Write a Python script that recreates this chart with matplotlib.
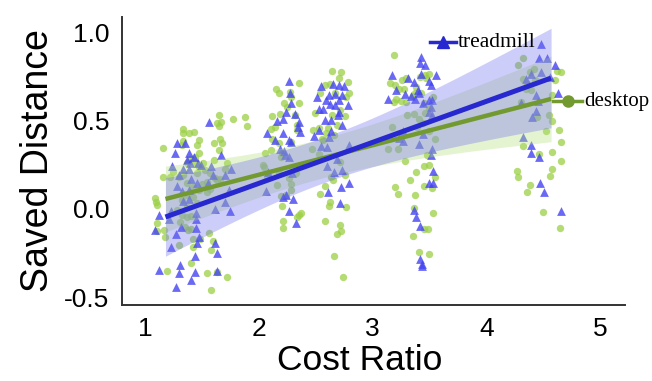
import numpy as np
import matplotlib
matplotlib.use("Agg")
import matplotlib.pyplot as plt

# ---------------- data ----------------
treadmill_x = [
    1.565, 1.278, 1.354, 1.261, 1.390, 1.431, 1.671, 1.366, 1.395, 1.466, 1.495, 1.237, 1.577, 1.331,
    1.384, 1.759, 1.706, 1.296, 1.401, 1.600, 1.554, 1.460, 1.284, 1.325, 1.384, 1.735, 1.390, 1.706,
    1.337, 1.126, 1.231, 1.448, 1.618, 1.747, 1.208, 1.448, 1.313, 1.085, 1.448, 1.272, 1.472, 1.460,
    1.231, 1.618, 1.630, 1.442, 1.307, 1.126, 1.302, 1.442, 1.636, 1.407, 1.272,
    2.263, 2.275, 2.544, 2.655, 2.702, 2.749, 2.614, 2.667, 2.732, 2.509, 2.591, 2.286, 2.626, 2.708,
    2.784, 2.673, 2.527, 2.562, 2.239, 2.316, 2.708, 2.696, 2.157, 2.216, 2.351, 2.585, 2.632, 2.732,
    2.345, 2.362, 2.069, 2.210, 2.527, 2.638, 2.485, 2.140, 2.263, 2.280, 2.620, 2.187, 2.550, 2.597,
    2.222, 2.233, 2.790, 2.263, 2.685, 2.597, 2.732, 2.081, 2.661, 2.292, 2.790, 2.720, 2.064, 2.609,
    2.239, 2.210, 2.298, 2.714, 2.269, 2.327,
    3.429, 3.418, 3.465, 3.171, 3.312, 3.429, 3.558, 3.494, 3.207, 3.365, 3.511, 3.400, 3.283, 3.406,
    3.136, 3.341, 3.377, 3.500, 3.523, 3.441, 3.517, 3.500, 3.523, 3.265, 3.441, 3.236, 3.265, 3.406,
    3.523, 3.511, 3.535, 3.494, 3.535, 3.365, 3.382, 3.418, 3.418, 3.435, 3.435,
    4.484, 4.467, 4.537, 4.607, 4.478, 4.396, 4.350, 4.560, 4.631, 4.437, 4.455, 4.308, 4.437, 4.402,
    4.326, 4.396, 4.396, 4.461, 4.473, 4.508, 4.654,
]
treadmill_y = [
    0.494, 0.373, 0.373, 0.316, 0.316, 0.297, 0.309, 0.278, 0.259, 0.259, 0.248, 0.244, 0.244, 0.225,
    0.225, 0.225, 0.195, 0.191, 0.172, 0.195, 0.150, 0.150, 0.131, 0.104, 0.108, 0.108, 0.055, 0.040,
    0.047, -0.032, -0.013, -0.021, -0.002, -0.013, -0.055, -0.055, -0.100, -0.119, -0.108, -0.142, -0.157, -0.191,
    -0.214, -0.191, -0.248, -0.267, -0.316, -0.347, -0.362, -0.358, -0.350, -0.403, -0.445,
    0.725, 0.661, 0.699, 0.710, 0.703, 0.699, 0.650, 0.653, 0.650, 0.635, 0.616, 0.600, 0.597, 0.616,
    0.589, 0.593, 0.566, 0.566, 0.551, 0.540, 0.551, 0.532, 0.502, 0.510, 0.494, 0.506, 0.506, 0.479,
    0.468, 0.438, 0.430, 0.430, 0.449, 0.441, 0.415, 0.392, 0.392, 0.381, 0.411, 0.343, 0.358, 0.350,
    0.332, 0.309, 0.362, 0.293, 0.286, 0.244, 0.222, 0.210, 0.210, 0.206, 0.146, 0.127, 0.100, 0.097,
    0.078, 0.070, 0.055, 0.032, -0.009, -0.077,
    0.862, 0.831, 0.816, 0.763, 0.744, 0.767, 0.763, 0.729, 0.676, 0.722, 0.703, 0.676, 0.653, 0.657,
    0.627, 0.642, 0.627, 0.619, 0.616, 0.600, 0.578, 0.551, 0.536, 0.441, 0.426, 0.403, 0.388, 0.369,
    0.343, 0.305, 0.218, 0.150, 0.150, -0.006, -0.044, -0.097, -0.282, -0.313, -0.324,
    0.938, 0.858, 0.858, 0.816, 0.778, 0.767, 0.737, 0.752, 0.661, 0.650, 0.615, 0.600, 0.559, 0.521,
    0.407, 0.365, 0.320, 0.297, 0.150, 0.097, -0.010,
]

desktop_x = [
    1.653, 1.770, 1.630, 1.665, 1.647, 1.331, 1.337, 1.384, 1.431, 1.472, 1.460, 1.337, 1.325, 1.155,
    1.659, 1.606, 1.677, 1.653, 1.606, 1.724, 1.706, 1.472, 1.442, 1.395, 1.366, 1.436, 1.477, 1.460,
    1.161, 1.249, 1.296, 1.337, 1.524, 1.571, 1.659, 1.548, 1.501, 1.618, 1.366, 1.419, 1.472, 1.542,
    1.571, 1.085, 1.096, 1.108, 1.325, 1.366, 1.419, 1.454, 1.366, 1.278, 1.325, 1.366, 1.407, 1.307,
    1.108, 1.108, 1.167, 1.354, 1.378, 1.401, 1.179, 1.419, 1.483, 1.302, 1.425, 1.565, 1.595, 1.577,
    1.407, 1.190, 1.542, 1.630, 1.718, 1.583, 1.630, 1.513, 1.220, 1.880, 1.900,
    2.644, 2.720, 2.708, 2.357, 2.151, 2.175, 2.275, 2.626, 2.784, 2.579, 2.673, 2.790, 2.767, 2.222,
    2.245, 2.351, 2.280, 2.538, 2.497, 2.116, 2.187, 2.321, 2.714, 2.761, 2.644, 2.146, 2.110, 2.339,
    2.333, 2.474, 2.532, 2.609, 2.691, 2.116, 2.175, 2.280, 2.591, 2.661, 2.058, 2.204, 2.105, 2.556,
    2.468, 2.527, 2.568, 2.034, 2.046, 2.198, 2.714, 2.181, 2.069, 2.327, 2.269, 2.632, 2.656, 2.761,
    2.280, 2.163, 2.585, 2.286, 2.538, 2.193, 2.239, 2.626, 2.620, 2.204, 2.767, 2.374, 2.351, 2.333,
    2.216, 2.579, 2.714, 2.210, 2.726, 2.685, 2.661, 2.737,
    3.189, 3.154, 3.201, 3.259, 3.294, 3.236, 3.277, 3.459, 3.494, 3.470, 3.418, 3.382, 3.377, 3.359,
    3.423, 3.207, 3.253, 3.294, 3.189, 3.535, 3.453, 3.494, 3.365, 3.459, 3.406, 3.447, 3.171, 3.394,
    3.500, 3.552, 3.136, 3.224, 3.476, 3.283, 3.453, 3.494, 3.382, 3.552, 3.330, 3.201, 3.453, 3.523,
    3.224, 3.371, 3.529, 3.365, 3.453, 3.488, 3.359, 3.406, 3.500, 3.306,
    4.326, 4.279, 4.420, 4.385, 4.625, 4.660, 4.326, 4.355, 4.426, 4.607, 4.350, 4.396, 4.578, 4.303,
    4.449, 4.549, 4.578, 4.525, 4.637, 4.654, 4.326, 4.461, 4.578, 4.660, 4.267, 4.279, 4.578, 4.561,
    4.385, 4.361, 4.496, 4.648,
]
desktop_y = [
    0.536, 0.513, 0.487, 0.494, 0.472, 0.453, 0.430, 0.434, 0.437, 0.392, 0.362, 0.388, 0.366, 0.347,
    0.396, 0.377, 0.373, 0.335, 0.278, 0.263, 0.229, 0.316, 0.297, 0.286, 0.259, 0.259, 0.241, 0.203,
    0.184, 0.210, 0.184, 0.191, 0.222, 0.203, 0.169, 0.153, 0.142, 0.176, 0.146, 0.123, 0.108, 0.097,
    0.112, 0.062, 0.040, 0.021, 0.051, 0.078, 0.070, 0.032, 0.013, -0.006, -0.036, -0.044, -0.040, -0.074,
    -0.081, -0.123, -0.119, -0.100, -0.119, -0.116, -0.161, -0.169, -0.172, -0.206, -0.218, -0.138, -0.180, -0.233,
    -0.309, -0.354, -0.366, -0.358, -0.388, -0.460, 0.165, 0.259, 0.184, 0.520, 0.470,
    0.786, 0.775, 0.741, 0.714, 0.684, 0.657, 0.665, 0.710, 0.722, 0.703, 0.657, 0.657, 0.638, 0.604,
    0.581, 0.604, 0.635, 0.657, 0.547, 0.528, 0.540, 0.532, 0.563, 0.528, 0.532, 0.468, 0.456, 0.475,
    0.449, 0.449, 0.460, 0.460, 0.475, 0.396, 0.373, 0.381, 0.430, 0.422, 0.316, 0.316, 0.335, 0.400,
    0.343, 0.313, 0.392, 0.252, 0.237, 0.294, 0.267, 0.203, 0.184, 0.206, 0.176, 0.180, 0.165, 0.191,
    0.142, 0.134, 0.131, 0.108, 0.085, 0.074, 0.081, 0.040, 0.017, 0.017, 0.013, -0.025, -0.036, -0.044,
    -0.070, -0.066, -0.089, -0.108, -0.123, -0.142, -0.267, -0.388,
    0.873, 0.714, 0.706, 0.733, 0.741, 0.680, 0.684, 0.763, 0.767, 0.741, 0.748, 0.695, 0.657, 0.642,
    0.657, 0.623, 0.615, 0.608, 0.608, 0.634, 0.600, 0.574, 0.540, 0.544, 0.513, 0.487, 0.468, 0.464,
    0.445, 0.400, 0.343, 0.343, 0.305, 0.271, 0.244, 0.252, 0.210, 0.180, 0.165, 0.123, 0.131, 0.119,
    0.085, 0.078, -0.025, 0.006, -0.112, -0.116, -0.153, -0.244, -0.256, 0.532,
    0.858, 0.820, 0.793, 0.778, 0.782, 0.778, 0.737, 0.710, 0.733, 0.733, 0.680, 0.676, 0.646, 0.608,
    0.521, 0.532, 0.502, 0.441, 0.449, 0.381, 0.358, 0.312, 0.324, 0.275, 0.214, 0.180, 0.229, 0.187,
    0.134, 0.097, -0.017, -0.108,
]

# model estimates
treadmill_intercept, treadmill_slope = -0.320, 0.2327
desktop_intercept, desktop_slope = -0.141, 0.1676
fit_range = [1.18, 4.57]      # range of the (un-jittered) cost ratios used for the fits
design_effect = 10.0          # variance inflation for repeated measures in the CI

x_ticks = [1, 2, 3, 4, 5]
y_ticks = [-0.5, 0.0, 0.5, 1.0]
y_ticklabels = ["-0.5", "0.0", "0.5", "1.0"]

# ---------------- styling ----------------
BLUE_PT = "#4444f2"
BLUE_LINE = "#2828d0"
GREEN_PT = "#9bcf45"
GREEN_LINE = "#739a30"
GREEN_BAND = "#b5e07a"
BLUE_BAND = "#7070f0"


def model_with_ci(x, y, a, b, xs, deff):
    x = np.asarray(x, float)
    y = np.asarray(y, float)
    n = len(x)
    resid = y - (a + b * x)
    s2 = np.sum((resid - resid.mean()) ** 2) / (n - 2)
    sxx = np.sum((x - x.mean()) ** 2)
    se = np.sqrt(deff * s2 * (1.0 / n + (xs - x.mean()) ** 2 / sxx))
    yhat = a + b * xs
    return yhat, yhat - 1.97 * se, yhat + 1.97 * se


fig = plt.figure(figsize=(6.52, 3.81), dpi=100)
ax = fig.add_axes([122 / 652, 1 - 305 / 381, 503 / 652, 288 / 381])

ax.scatter(desktop_x, desktop_y, s=28, marker="o", color=GREEN_PT, alpha=0.75,
           linewidths=0, zorder=2)
ax.scatter(treadmill_x, treadmill_y, s=40, marker="^", color=BLUE_PT, alpha=0.8,
           linewidths=0, zorder=2)

xs = np.linspace(fit_range[0], fit_range[1], 100)
yg, lg, ug = model_with_ci(desktop_x, desktop_y, desktop_intercept, desktop_slope, xs, design_effect)
yb, lb, ub = model_with_ci(treadmill_x, treadmill_y, treadmill_intercept, treadmill_slope, xs, design_effect)

ax.fill_between(xs, lg, ug, color=GREEN_BAND, alpha=0.35, linewidth=0, zorder=3)
ax.fill_between(xs, lb, ub, color=BLUE_BAND, alpha=0.35, linewidth=0, zorder=3)
ax.plot(xs, yg, color=GREEN_LINE, linewidth=3.2, zorder=4, solid_capstyle="butt")
ax.plot(xs, yb, color=BLUE_LINE, linewidth=3.6, zorder=5, solid_capstyle="butt")

# direct labels
ax.plot([0.612, 0.664], [0.913, 0.913], transform=ax.transAxes, color=BLUE_LINE,
        linewidth=2.5, clip_on=False, zorder=6)
ax.plot([0.638], [0.913], transform=ax.transAxes, color=BLUE_LINE, marker="^",
        markersize=8, clip_on=False, zorder=6)
ax.text(0.667, 0.913, "treadmill", transform=ax.transAxes, ha="left", va="center",
        fontsize=15.5, family="Liberation Serif", color="black")

ax.plot([0.857, 0.915], [0.708, 0.708], transform=ax.transAxes, color=GREEN_LINE,
        linewidth=2.5, clip_on=False, zorder=6)
ax.plot([0.886], [0.708], transform=ax.transAxes, color=GREEN_LINE, marker="o",
        markersize=8, clip_on=False, zorder=6)
ax.text(0.918, 0.708, "desktop", transform=ax.transAxes, ha="left", va="center",
        fontsize=15, family="Liberation Serif", color="black")

ax.set_xlim(0.798, 5.22)
ax.set_ylim(-0.545, 1.09)
ax.set_xticks(x_ticks)
ax.set_xticklabels([str(t) for t in x_ticks])
ax.set_yticks(y_ticks)
ax.set_yticklabels(y_ticklabels)
for lab in ax.get_xticklabels() + ax.get_yticklabels():
    lab.set_family("Liberation Sans")
    lab.set_fontsize(19)
ax.tick_params(axis="both", length=0, pad=9, colors="black")

ax.set_xlabel("Cost Ratio", fontsize=25.5, family="Liberation Sans", labelpad=2)
ax.xaxis.set_label_coords(0.473, -0.135, transform=ax.transAxes)
ax.set_ylabel("Saved Distance", fontsize=27, family="Liberation Sans", labelpad=6)

for side in ["top", "right"]:
    ax.spines[side].set_visible(False)
for side in ["left", "bottom"]:
    ax.spines[side].set_color("#333333")
    ax.spines[side].set_linewidth(1.4)

fig.savefig("out.png", dpi=100)
